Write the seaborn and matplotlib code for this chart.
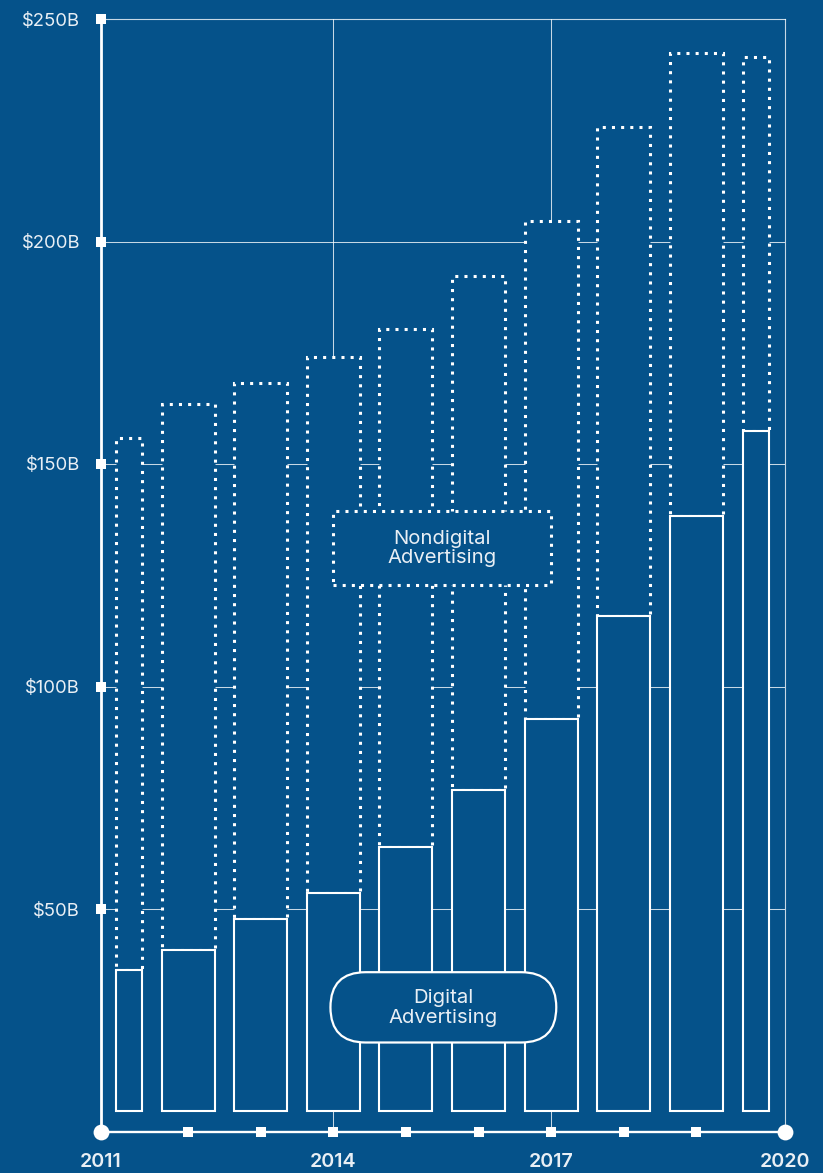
import matplotlib
matplotlib.use("Agg")
import matplotlib.pyplot as plt
from matplotlib.patches import FancyBboxPatch, Rectangle
import seaborn as sns

# --- data ($ billions, read on the axis scale) ---------------------------
years = [2011, 2012, 2013, 2014, 2015, 2016, 2017, 2018, 2019, 2020]
digital = [36.3, 40.7, 47.8, 53.5, 64.0, 76.8, 92.8, 115.8, 138.3, 157.4]
nondigital = [119.6, 122.7, 120.5, 120.6, 116.4, 115.4, 111.9, 109.9, 104.1, 84.1]

y_ticks = [50, 100, 150, 200, 250]
y_tick_labels = ["$50B", "$100B", "$150B", "$200B", "$250B"]
x_tick_labels = ["2011", "2014", "2017", "2020"]
x_grid_years = [2014, 2017]
series_labels = ["Nondigital\nAdvertising", "Digital\nAdvertising"]

# --- style -----------------------------------------------------------------
BG = "#05528A"
LINE = "white"
TXT = "#E9EFF5"
GRID = (1, 1, 1, 0.78)

sns.set_theme(style="white", rc={
    "axes.facecolor": BG,
    "figure.facecolor": BG,
})
plt.rcParams["font.family"] = ["Inter", "DejaVu Sans"]

XMIN, XMAX = 2010.8, 2020.22
YMAX = 250
BAR_W = 0.73
FLOOR = 4.6          # bars float slightly above the baseline
DOT = (0, (1, 2.0))

W_PX, H_PX = 823, 1173
AX_L, AX_R, AX_T, AX_B = 101, 785, 19, 1131.5

fig = plt.figure(figsize=(W_PX / 100, H_PX / 100), dpi=100)
ax = fig.add_axes([AX_L / W_PX, (H_PX - AX_B) / H_PX,
                   (AX_R - AX_L) / W_PX, (AX_B - AX_T) / H_PX])
ax.set_xlim(XMIN, XMAX)
ax.set_ylim(0, YMAX)

# grid
for v in y_ticks[:-1]:
    ax.axhline(v, color=GRID, lw=0.75, zorder=1)
for yr in x_grid_years:
    ax.axvline(yr, color=GRID, lw=0.75, zorder=1)

# bars, with the outermost years clipped to the axis years
lefts, widths = [], []
for yr in years:
    lo = max(yr - BAR_W / 2, years[0])
    hi = min(yr + BAR_W / 2, years[-1])
    lefts.append(lo)
    widths.append(hi - lo)

ax.bar(lefts, nondigital, width=widths, bottom=digital, align="edge",
       facecolor=BG, edgecolor=LINE, lw=2.2, linestyle=DOT, zorder=2)
ax.bar(lefts, [d - FLOOR for d in digital], width=widths, bottom=FLOOR,
       align="edge", facecolor=BG, edgecolor=LINE, lw=1.5, zorder=3)

# series labels
px_x = (AX_R - AX_L) / (XMAX - XMIN)
px_y = (AX_B - AX_T) / YMAX

box = Rectangle((2014, 122.8), 3.0, 16.6, facecolor=BG, edgecolor=LINE,
                lw=2.2, linestyle=DOT, zorder=5)
ax.add_patch(box)
ax.text(2015.5, 131.0, series_labels[0], ha="center", va="center",
        fontsize=14.6, color=TXT, linespacing=1.12, zorder=6)

pill_x0, pill_x1 = 2013.96, 2017.07
pill_y0, pill_y1 = 20.0, 35.8
radius = (pill_y1 - pill_y0) * px_y / 2 / px_x
pill = FancyBboxPatch((pill_x0, pill_y0), pill_x1 - pill_x0, pill_y1 - pill_y0,
                      boxstyle=f"round,pad=0,rounding_size={radius}",
                      mutation_aspect=px_x / px_y,
                      facecolor=BG, edgecolor=LINE, lw=1.6, zorder=5)
ax.add_patch(pill)
ax.text((pill_x0 + pill_x1) / 2, 27.7, series_labels[1], ha="center",
        va="center", fontsize=14.6, color=TXT, linespacing=1.12, zorder=6)

# frame
for side in ("top", "right"):
    ax.spines[side].set_color(GRID)
    ax.spines[side].set_linewidth(0.8)
ax.spines["left"].set_color(LINE)
ax.spines["left"].set_linewidth(2.0)
ax.spines["bottom"].set_color(LINE)
ax.spines["bottom"].set_linewidth(1.7)
for s in ax.spines.values():
    s.set_zorder(7)

# ticks
ax.set_yticks(y_ticks)
ax.set_yticklabels(y_tick_labels)
ax.set_xticks([XMIN, x_grid_years[0], x_grid_years[1], XMAX])
ax.set_xticklabels(x_tick_labels)
ax.tick_params(axis="y", length=0, pad=15, labelsize=13.3, labelcolor=TXT)
ax.tick_params(axis="x", length=0, pad=15.5, labelsize=14.2, labelcolor=TXT)
for lbl in ax.get_xticklabels():
    lbl.set_fontweight("semibold")

# axis markers
sns.scatterplot(x=[XMIN] * len(y_ticks), y=y_ticks, marker="s", s=52,
                color=LINE, linewidth=0, clip_on=False, zorder=8, ax=ax)
sns.scatterplot(x=years[1:-1], y=[0] * (len(years) - 2), marker="s", s=52,
                color=LINE, linewidth=0, clip_on=False, zorder=8, ax=ax)
sns.scatterplot(x=[XMIN, XMAX], y=[0, 0], marker="o", s=130,
                color=LINE, linewidth=0, clip_on=False, zorder=8, ax=ax)

fig.savefig("out.png", dpi=100, facecolor=BG)
